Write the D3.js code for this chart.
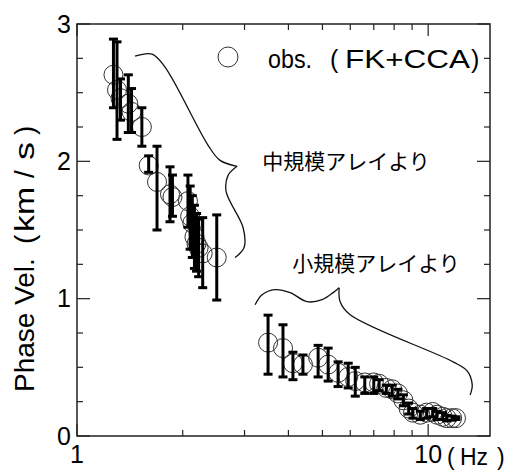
<!DOCTYPE html>
<html>
<head>
<meta charset="UTF-8">
<script src="https://d3js.org/d3.v7.min.js"></script>
<style>
  body { margin: 0; background: #fff; }
  text { font-family: "Liberation Sans", Arial, "Noto Sans CJK JP", sans-serif; fill: #000; }
  .jp { font-family: "Noto Sans CJK JP", sans-serif; }
</style>
</head>
<body>
<script>
// mid-size array (FK+CCA) : frequency (Hz), phase velocity (km/s), error bar low / high
var midFreq = [1.27, 1.30, 1.33, 1.40, 1.43, 1.53, 1.60, 1.69, 1.84, 1.87, 2.07, 2.10, 2.13, 2.16, 2.19, 2.22, 2.28, 2.50];
var midVel  = [2.63, 2.52, 2.46, 2.42, 2.36, 2.25, 1.97, 1.85, 1.76, 1.74, 1.71, 1.60, 1.55, 1.45, 1.40, 1.37, 1.33, 1.30];
var midLo   = [2.39, 2.16, 2.30, 2.21, 2.21, 2.11, 1.92, 1.50, 1.56, 1.60, 1.52, 1.36, 1.30, 1.22, 1.20, 1.16, 1.08, 0.99];
var midHi   = [2.89, 2.87, 2.60, 2.63, 2.53, 2.39, 2.04, 2.11, 1.96, 1.90, 1.90, 1.82, 1.75, 1.68, 1.62, 1.58, 1.59, 1.61];

// small-size array
var smlFreq = [3.50, 3.86, 4.12, 4.40, 4.86, 5.19, 5.54, 5.92, 6.20, 6.60, 7.00, 7.25, 7.60, 7.90, 8.20, 8.50, 8.80, 9.05, 9.50, 9.90, 10.3, 10.6, 11.0, 11.3, 11.7, 12.0];
var smlVel  = [0.68, 0.64, 0.53, 0.52, 0.57, 0.52, 0.46, 0.43, 0.40, 0.39, 0.39, 0.38, 0.35, 0.34, 0.31, 0.26, 0.20, 0.17, 0.155, 0.17, 0.175, 0.155, 0.14, 0.13, 0.13, 0.13];
var smlLo   = [0.45, 0.43, 0.41, 0.45, 0.43, 0.40, 0.36, 0.35, 0.29, 0.31, 0.31, 0.33, 0.31, 0.29, 0.27, 0.22, 0.16, 0.13, 0.12, 0.13, 0.14, 0.12, 0.12, 0.11, 0.115, 0.12];
var smlHi   = [0.88, 0.81, 0.61, 0.59, 0.66, 0.64, 0.54, 0.53, 0.50, 0.43, 0.43, 0.41, 0.37, 0.37, 0.34, 0.30, 0.24, 0.20, 0.18, 0.20, 0.20, 0.18, 0.17, 0.15, 0.145, 0.14];

// axis ticks
var xMajor = [1, 10];
var xMinor = [2, 3, 4, 5, 6, 7, 8, 9];
var yMajor = [0, 1, 2, 3];
var yMinor = [0.25, 0.5, 0.75, 1.25, 1.5, 1.75, 2.25, 2.5, 2.75];

// brace annotations (Hz, km/s)
var braceMidA = [[1.463, 2.766], [1.636, 2.781], [1.781, 2.686], [2.362, 2.117], [2.555, 2.007], [2.857, 1.964]];
var braceMidB = [[2.857, 1.964], [2.693, 1.898], [2.658, 1.781], [2.971, 1.518], [2.991, 1.372], [2.819, 1.299]];
var braceSmlA = [[3.215, 0.956], [3.366, 1.029], [3.665, 1.066], [4.045, 1.044], [4.521, 0.978], [4.989, 0.993], [5.362, 1.044], [5.578, 1.080]];
var braceSmlB = [[5.578, 1.080], [5.615, 0.978], [5.995, 0.883], [11.78, 0.540], [12.91, 0.474], [13.35, 0.372], [13.17, 0.299]];

var W = 514, H = 474;
var margin = {left: 77, right: 24, top: 24, bottom: 38};

var svg = d3.select("body").append("svg")
	.attr("width", W)
	.attr("height", H);

var x = d3.scaleLog().domain([1, 15]).range([margin.left, W - margin.right]);
var y = d3.scaleLinear().domain([0, 3]).range([H - margin.bottom, margin.top]);

var x0 = x.range()[0], x1 = x.range()[1], y0 = y.range()[0], y1 = y.range()[1];

// frame
svg.append("rect")
	.attr("x", x0).attr("y", y1)
	.attr("width", x1 - x0).attr("height", y0 - y1)
	.attr("fill", "none").attr("stroke", "#222").attr("stroke-width", 1.5);

// ticks, all inward
function tickLines(vals, len, horiz) {
	vals.forEach(function(v) {
		if (horiz) {
			svg.append("line").attr("x1", x(v)).attr("x2", x(v)).attr("y1", y0).attr("y2", y0 - len).attr("stroke", "#222").attr("stroke-width", 1.2);
			svg.append("line").attr("x1", x(v)).attr("x2", x(v)).attr("y1", y1).attr("y2", y1 + len).attr("stroke", "#222").attr("stroke-width", 1.2);
		} else {
			svg.append("line").attr("x1", x0).attr("x2", x0 + len).attr("y1", y(v)).attr("y2", y(v)).attr("stroke", "#222").attr("stroke-width", 1.2);
			svg.append("line").attr("x1", x1).attr("x2", x1 - len).attr("y1", y(v)).attr("y2", y(v)).attr("stroke", "#222").attr("stroke-width", 1.2);
		}
	});
}
tickLines(xMinor, 6, true);
tickLines(xMajor, 12, true);
tickLines(yMinor, 6, false);
tickLines(yMajor, 13, false);

// tick labels
xMajor.forEach(function(v) {
	svg.append("text")
		.attr("x", x(v)).attr("y", y0 + 27)
		.attr("text-anchor", "middle")
		.style("font-size", "25px")
		.text(v);
});
yMajor.forEach(function(v) {
	svg.append("text")
		.attr("x", x0 - 6).attr("y", y(v))
		.attr("dy", "0.35em")
		.attr("text-anchor", "end")
		.style("font-size", "25px")
		.text(v);
});

// axis titles
var xt = svg.append("text")
	.attr("y", y0 + 29)
	.style("font-size", "23px");
xt.append("tspan").attr("x", 447).text("(");
xt.append("tspan").attr("x", 460).text("Hz");
xt.append("tspan").attr("x", 497).text(")");

var yt = svg.append("text")
	.attr("transform", "translate(34,392) rotate(-90)")
	.style("font-size", "28px");
yt.append("tspan").attr("x", 0).text("Phase Vel.");
yt.append("tspan").attr("x", 148).text("(");
yt.append("tspan").attr("x", 160).attr("textLength", 45).attr("lengthAdjust", "spacingAndGlyphs").text("km");
yt.append("tspan").attr("x", 214).text("/");
yt.append("tspan").attr("x", 232).attr("textLength", 18).attr("lengthAdjust", "spacingAndGlyphs").text("s");
yt.append("tspan").attr("x", 257).text(")");

// braces
var brace = d3.line()
	.x(function(d) { return x(d[0]); })
	.y(function(d) { return y(d[1]); })
	.curve(d3.curveCatmullRom.alpha(0.5));

[braceMidA, braceMidB, braceSmlA, braceSmlB].forEach(function(b) {
	svg.append("path")
		.attr("d", brace(b))
		.attr("fill", "none")
		.attr("stroke", "#111")
		.attr("stroke-width", 1.3);
});

svg.append("text").attr("class", "jp")
	.attr("x", x(3.37)).attr("y", y(2.0))
	.attr("dy", "0.36em")
	.style("font-size", "21px")
	.text("中規模アレイより");

svg.append("text").attr("class", "jp")
	.attr("x", x(4.10)).attr("y", y(1.26))
	.attr("dy", "0.36em")
	.style("font-size", "21px")
	.text("小規模アレイより");

// data
function drawSeries(fr, ve, lo, hi) {
	var pts = fr.map(function(f, i) { return {f: f, v: ve[i], lo: lo[i], hi: hi[i]}; });

	svg.append("g").selectAll("circle")
		.data(pts).enter().append("circle")
		.attr("cx", function(d) { return x(d.f); })
		.attr("cy", function(d) { return y(d.v); })
		.attr("r", 9.5)
		.attr("fill", "none")
		.attr("stroke", "#333")
		.attr("stroke-width", 1);

	var g = svg.append("g").attr("stroke", "#000").attr("stroke-width", 3);
	pts.forEach(function(d) {
		var cx = x(d.f);
		g.append("line").attr("x1", cx).attr("x2", cx).attr("y1", y(d.lo)).attr("y2", y(d.hi));
		g.append("line").attr("x1", cx - 4.5).attr("x2", cx + 4.5).attr("y1", y(d.lo)).attr("y2", y(d.lo));
		g.append("line").attr("x1", cx - 4.5).attr("x2", cx + 4.5).attr("y1", y(d.hi)).attr("y2", y(d.hi));
	});
}
drawSeries(midFreq, midVel, midLo, midHi);
drawSeries(smlFreq, smlVel, smlLo, smlHi);

// legend
svg.append("circle")
	.attr("cx", 228).attr("cy", 57).attr("r", 10)
	.attr("fill", "none").attr("stroke", "#333").attr("stroke-width", 1);
var lt = svg.append("text")
	.attr("y", 68)
	.style("font-size", "25px");
lt.append("tspan").attr("x", 268).attr("textLength", 44).attr("lengthAdjust", "spacingAndGlyphs").text("obs.");
lt.append("tspan").attr("x", 330).text("(");
lt.append("tspan").attr("x", 345).attr("textLength", 125).attr("lengthAdjust", "spacingAndGlyphs").text("FK+CCA");
lt.append("tspan").attr("x", 471).text(")");
</script>
</body>
</html>
